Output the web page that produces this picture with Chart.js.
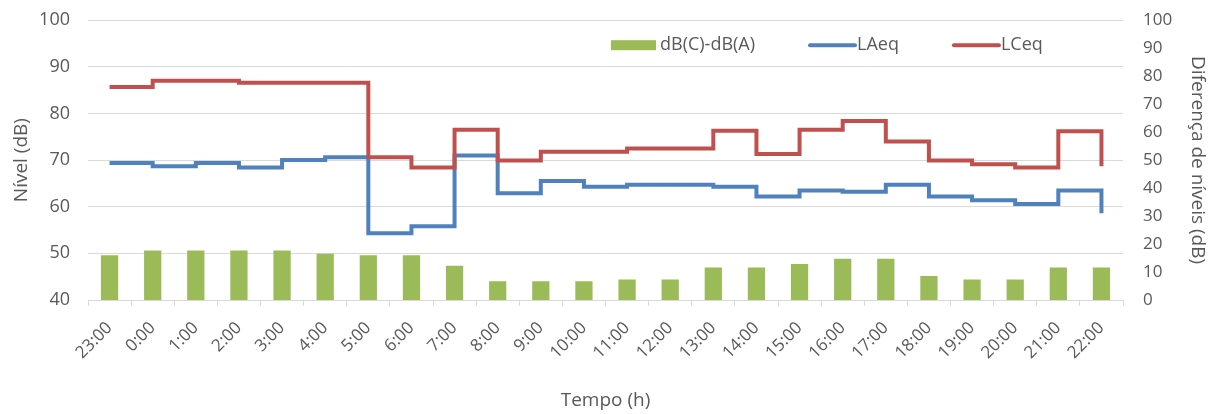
<!DOCTYPE html>
<html>
<head>
<meta charset="utf-8">
<script src="https://cdn.jsdelivr.net/npm/chart.js@4"></script>
<style>
  html, body { margin: 0; padding: 0; background: #fff; overflow: hidden; }
  #wrap { width: 1217px; height: 424px; margin-top: -10px; }
</style>
</head>
<body>
<div id="wrap"><canvas id="chart"></canvas></div>
<script>
// ----- data -----
const hours = ["23:00", "0:00", "1:00", "2:00", "3:00", "4:00", "5:00", "6:00", "7:00", "8:00", "9:00", "10:00",
  "11:00", "12:00", "13:00", "14:00", "15:00", "16:00", "17:00", "18:00", "19:00", "20:00", "21:00", "22:00"];
const diffCA = [16.0, 17.7, 17.7, 17.7, 17.7, 16.5, 16.0, 16.0, 12.2, 6.7, 6.7, 6.7,
  7.3, 7.3, 11.6, 11.6, 12.9, 14.7, 14.7, 8.6, 7.3, 7.3, 11.6, 11.6];
const laeq = [69.4, 68.7, 69.4, 68.4, 70.0, 70.6, 54.3, 55.8, 71.0, 62.9, 65.5, 64.3,
  64.7, 64.7, 64.3, 62.2, 63.5, 63.2, 64.7, 62.2, 61.4, 60.6, 63.5, 58.6];
const lceq = [85.7, 87.0, 87.0, 86.6, 86.6, 86.6, 70.6, 68.4, 76.5, 69.9, 71.8, 71.8,
  72.5, 72.5, 76.3, 71.3, 76.5, 78.4, 74.0, 69.9, 69.1, 68.4, 76.2, 68.7];
const leftTicks = { min: 40, max: 100, step: 10 };
const rightTicks = { min: 0, max: 100, step: 10 };

const FONT = "'Open Sans', sans-serif";
const GREY = "#595959";

// legend drawn inside the plot, like the excel original
const insideLegend = {
  id: 'insideLegend',
  afterDraw(chart) {
    const ctx = chart.ctx;
    const y = chart.chartArea.top + 25;
    let x = 611;
    ctx.save();
    ctx.font = "18px " + FONT;
    ctx.textBaseline = "middle";
    chart.data.datasets.forEach(ds => {
      if (ds.type === 'line') {
        ctx.strokeStyle = ds.borderColor;
        ctx.lineWidth = 4;
        ctx.lineCap = 'round';
        ctx.beginPath();
        ctx.moveTo(x + 2, y);
        ctx.lineTo(x + 47, y);
        ctx.stroke();
        x += 49;
      } else {
        ctx.fillStyle = ds.backgroundColor;
        ctx.fillRect(x, y - 5, 45, 10);
        x += 49;
      }
      ctx.fillStyle = GREY;
      ctx.fillText(ds.label, x, y);
      x += ctx.measureText(ds.label).width + 53;
    });
    ctx.restore();
  }
};

const ctx = document.getElementById('chart').getContext('2d');
new Chart(ctx, {
  data: {
    labels: hours,
    datasets: [
      {
        type: 'bar', label: "dB(C)-dB(A)", data: diffCA, yAxisID: 'y1',
        backgroundColor: "#9bbb59", barPercentage: 0.4, categoryPercentage: 1.0, order: 3
      },
      {
        type: 'line', label: "LAeq", data: laeq, yAxisID: 'y',
        borderColor: "#4f81bd", borderWidth: 4, stepped: true, pointRadius: 0, fill: false, order: 2
      },
      {
        type: 'line', label: "LCeq", data: lceq, yAxisID: 'y',
        borderColor: "#c0504d", borderWidth: 4, stepped: true, pointRadius: 0, fill: false, order: 1
      }
    ]
  },
  options: {
    responsive: true,
    maintainAspectRatio: false,
    animation: false,
    layout: { padding: { top: 0, left: 6, right: 4, bottom: 2 } },
    plugins: {
      legend: { display: false },
      tooltip: { enabled: false }
    },
    scales: {
      x: {
        offset: true,
        grid: { display: true, drawOnChartArea: false, drawTicks: true, tickLength: 6, color: "#d9d9d9" },
        border: { color: "#d9d9d9" },
        ticks: { color: GREY, font: { family: FONT, size: 17 }, minRotation: 45, maxRotation: 45, padding: 12 },
        title: { display: true, text: "Tempo (h)", color: GREY, font: { family: FONT, size: 19 }, padding: { top: 4, bottom: 0 } },
        afterFit(scale) { scale.height = 112; }
      },
      y: {
        position: 'left',
        min: leftTicks.min, max: leftTicks.max,
        ticks: { stepSize: leftTicks.step, color: GREY, font: { family: FONT, size: 18 }, padding: 18 },
        grid: { color: "#d9d9d9", drawTicks: false },
        border: { display: false },
        title: { display: true, text: "Nível (dB)", color: GREY, font: { family: FONT, size: 19 } },
        afterFit(scale) { scale.width = 82; }
      },
      y1: {
        position: 'right',
        min: rightTicks.min, max: rightTicks.max,
        ticks: { stepSize: rightTicks.step, color: GREY, font: { family: FONT, size: 17 }, padding: 20 },
        grid: { display: false, drawTicks: false },
        border: { display: false },
        title: { display: true, text: "Diferença de níveis (dB)", color: GREY, font: { family: FONT, size: 19 } },
        afterFit(scale) { scale.width = 90; }
      }
    }
  },
  plugins: [insideLegend]
});
</script>
</body>
</html>
